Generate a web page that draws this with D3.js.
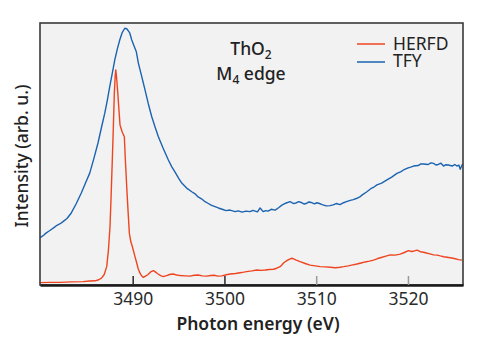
<!DOCTYPE html>
<html>
<head>
<meta charset="utf-8">
<script src="https://cdn.jsdelivr.net/npm/d3@7"></script>
<style>
  html, body { margin: 0; padding: 0; background: #ffffff; }
  svg { display: block; }
</style>
</head>
<body>
<svg id="chart" width="480" height="346"></svg>
<script>
// ---- data ----
const xTicks = [3490, 3500, 3510, 3520];
const seriesNames = ["HERFD", "TFY"];

const herfdEnergy = [3479.9, 3481.0, 3482.1, 3483.3, 3484.6, 3485.3, 3485.9, 3486.3, 3486.6, 3486.9, 3487.17, 3487.35, 3487.53, 3487.65, 3487.78, 3487.9, 3488.0, 3488.1, 3488.16, 3488.25, 3488.38, 3488.5, 3488.62, 3488.85, 3489.09, 3489.2, 3489.35, 3489.5, 3489.64, 3489.8, 3489.97, 3490.2, 3490.45, 3490.6, 3490.8, 3491.0, 3491.16, 3491.4, 3491.68, 3491.95, 3492.26, 3492.5, 3492.77, 3493.05, 3493.35, 3493.6, 3493.86, 3494.15, 3494.44, 3494.8, 3495.17, 3495.7, 3496.26, 3496.7, 3497.13, 3497.6, 3498.08, 3498.5, 3498.87, 3499.3, 3499.71, 3500.2, 3500.62, 3501.2, 3501.71, 3502.1, 3502.58, 3503.0, 3503.53, 3504.0, 3504.43, 3504.9, 3505.34, 3505.7, 3506.07, 3506.3, 3506.5, 3506.8, 3507.1, 3507.35, 3507.6, 3507.82, 3508.25, 3508.8, 3509.34, 3509.9, 3510.43, 3511.0, 3511.52, 3512.1, 3512.62, 3513.0, 3513.49, 3514.0, 3514.44, 3514.9, 3515.34, 3515.8, 3516.25, 3516.7, 3517.09, 3517.6, 3518.07, 3518.6, 3519.16, 3519.6, 3520.06, 3520.4, 3520.69, 3521.0, 3521.34, 3521.7, 3522.0, 3522.4, 3522.79, 3523.2, 3523.52, 3523.9, 3524.25, 3524.6, 3525.05, 3525.5, 3525.89];
const herfdValue  = [0.009, 0.010, 0.010, 0.012, 0.013, 0.015, 0.016, 0.020, 0.026, 0.040, 0.070, 0.130, 0.223, 0.340, 0.477, 0.610, 0.733, 0.800, 0.821, 0.790, 0.732, 0.670, 0.611, 0.585, 0.566, 0.480, 0.375, 0.280, 0.197, 0.165, 0.146, 0.115, 0.083, 0.062, 0.045, 0.034, 0.029, 0.034, 0.040, 0.050, 0.055, 0.049, 0.042, 0.036, 0.032, 0.035, 0.038, 0.041, 0.042, 0.038, 0.036, 0.035, 0.034, 0.037, 0.038, 0.035, 0.034, 0.036, 0.037, 0.034, 0.035, 0.039, 0.042, 0.044, 0.047, 0.049, 0.052, 0.054, 0.057, 0.056, 0.057, 0.059, 0.060, 0.064, 0.070, 0.078, 0.086, 0.093, 0.099, 0.102, 0.099, 0.095, 0.089, 0.082, 0.076, 0.073, 0.070, 0.069, 0.068, 0.066, 0.068, 0.070, 0.073, 0.077, 0.080, 0.084, 0.088, 0.091, 0.095, 0.101, 0.105, 0.110, 0.115, 0.114, 0.118, 0.124, 0.131, 0.128, 0.130, 0.133, 0.127, 0.125, 0.122, 0.119, 0.115, 0.114, 0.111, 0.108, 0.106, 0.104, 0.101, 0.097, 0.095];

const tfyEnergy = [3479.9, 3480.04, 3480.3, 3480.55, 3480.85, 3481.13, 3481.45, 3481.75, 3482.1, 3482.41, 3482.84, 3483.31, 3483.83, 3484.4, 3484.86, 3485.32, 3485.79, 3486.22, 3486.61, 3486.96, 3487.24, 3487.5, 3487.78, 3488.05, 3488.33, 3488.59, 3488.84, 3489.14, 3489.39, 3489.68, 3489.9, 3490.15, 3490.4, 3490.62, 3490.97, 3491.35, 3491.71, 3492.08, 3492.44, 3492.8, 3493.31, 3493.89, 3494.25, 3494.62, 3495.0, 3495.35, 3495.88, 3496.44, 3496.8, 3497.13, 3497.5, 3497.89, 3498.2, 3498.55, 3498.9, 3499.34, 3499.75, 3500.18, 3500.6, 3501.16, 3501.5, 3501.93, 3502.35, 3502.8, 3503.1, 3503.35, 3503.6, 3503.89, 3504.22, 3504.5, 3504.76, 3505.1, 3505.53, 3505.9, 3506.26, 3506.73, 3507.16, 3507.5, 3507.82, 3508.1, 3508.36, 3508.7, 3508.98, 3509.2, 3509.45, 3509.8, 3510.07, 3510.35, 3510.65, 3511.09, 3511.52, 3511.85, 3512.18, 3512.6, 3512.98, 3513.3, 3513.71, 3514.05, 3514.44, 3514.75, 3515.02, 3515.53, 3516.05, 3516.3, 3516.62, 3517.14, 3517.71, 3518.23, 3518.8, 3519.2, 3519.52, 3520.03, 3520.3, 3520.61, 3521.12, 3521.4, 3521.7, 3522.21, 3522.5, 3522.79, 3523.05, 3523.3, 3523.6, 3523.88, 3524.1, 3524.39, 3524.83, 3525.1, 3525.34, 3525.55, 3525.7, 3525.95];
const tfyValue  = [0.181, 0.184, 0.190, 0.198, 0.205, 0.212, 0.220, 0.228, 0.234, 0.242, 0.254, 0.275, 0.309, 0.351, 0.389, 0.427, 0.485, 0.542, 0.603, 0.656, 0.706, 0.757, 0.809, 0.859, 0.901, 0.935, 0.962, 0.980, 0.977, 0.962, 0.935, 0.912, 0.890, 0.847, 0.798, 0.744, 0.691, 0.642, 0.603, 0.566, 0.523, 0.477, 0.452, 0.431, 0.408, 0.389, 0.370, 0.356, 0.348, 0.336, 0.329, 0.318, 0.312, 0.305, 0.300, 0.294, 0.289, 0.284, 0.286, 0.280, 0.283, 0.278, 0.282, 0.280, 0.285, 0.282, 0.279, 0.294, 0.280, 0.284, 0.282, 0.289, 0.286, 0.295, 0.305, 0.313, 0.318, 0.311, 0.313, 0.318, 0.315, 0.309, 0.312, 0.317, 0.315, 0.310, 0.314, 0.311, 0.307, 0.302, 0.303, 0.306, 0.311, 0.307, 0.314, 0.318, 0.323, 0.326, 0.331, 0.336, 0.344, 0.356, 0.370, 0.374, 0.382, 0.389, 0.401, 0.412, 0.426, 0.432, 0.439, 0.447, 0.450, 0.454, 0.456, 0.462, 0.462, 0.460, 0.466, 0.464, 0.458, 0.460, 0.465, 0.454, 0.459, 0.458, 0.454, 0.460, 0.454, 0.458, 0.442, 0.462];

// ---- layout ----
const svg = d3.select("#chart");
const plotL = 40, plotR = 463, plotT = 23, plotB = 285;
const colors = { HERFD: "#ee4520", TFY: "#1b63b0" };
const font = "'Noto Sans', 'Open Sans', sans-serif";
const fs = 17.5;

const x = d3.scaleLinear().domain([3479.9, 3526.0]).range([plotL, plotR]);
const y = d3.scaleLinear().domain([0, 1]).range([plotB, plotT]);

// plot background
svg.append("rect")
  .attr("x", plotL).attr("y", plotT)
  .attr("width", plotR - plotL).attr("height", plotB - plotT)
  .attr("fill", "#f2f2f2");

// lines
const line = d3.line().x(d => x(d[0])).y(d => y(d[1]));
const herfd = herfdEnergy.map((e, i) => [e, herfdValue[i]]);
const tfy = tfyEnergy.map((e, i) => [e, tfyValue[i]]);

const plot = svg.append("g");
plot.append("path").datum(tfy)
  .attr("d", line).attr("fill", "none")
  .attr("stroke", colors.TFY).attr("stroke-width", 1.4).attr("stroke-linejoin", "round");
plot.append("path").datum(herfd)
  .attr("d", line).attr("fill", "none")
  .attr("stroke", colors.HERFD).attr("stroke-width", 1.4).attr("stroke-linejoin", "round");

// frame
svg.append("rect")
  .attr("x", plotL).attr("y", plotT)
  .attr("width", plotR - plotL).attr("height", plotB - plotT)
  .attr("fill", "none").attr("stroke", "#3a3a3a").attr("stroke-width", 1.6);

// x axis
const xAxis = d3.axisBottom(x).tickValues(xTicks)
  .tickSizeInner(-9).tickSizeOuter(0).tickPadding(8)
  .tickFormat(d3.format("d"));
const gx = svg.append("g").attr("transform", `translate(0,${plotB})`).call(xAxis);
gx.select(".domain").attr("stroke", "#1a1a1a").attr("stroke-width", 2.6);
gx.selectAll(".tick line")
  .attr("stroke", (d, i) => i < 2 ? "#2a2a2a" : "#9a9a9a")
  .attr("stroke-width", 1.5);
gx.selectAll(".tick text")
  .attr("font-family", font).attr("font-size", fs)
  .attr("fill", "#2a2a2a");

// axis titles
svg.append("text")
  .attr("x", 258).attr("y", 330)
  .attr("text-anchor", "middle")
  .attr("font-family", font).attr("font-size", fs).attr("font-weight", 600)
  .attr("fill", "#222")
  .text("Photon energy (eV)");

svg.append("text")
  .attr("transform", "translate(28,156) rotate(-90)")
  .attr("text-anchor", "middle")
  .attr("font-family", font).attr("font-size", fs).attr("font-weight", 500)
  .attr("fill", "#222")
  .text("Intensity (arb. u.)");

// annotation
const ann1 = svg.append("text")
  .attr("x", 251).attr("y", 55)
  .attr("text-anchor", "middle")
  .attr("font-family", font).attr("font-size", fs).attr("font-weight", 500)
  .attr("fill", "#222");
ann1.append("tspan").text("ThO");
ann1.append("tspan").attr("font-size", 12).attr("dy", 4).text("2");

const ann2 = svg.append("text")
  .attr("x", 251).attr("y", 80)
  .attr("text-anchor", "middle")
  .attr("font-family", font).attr("font-size", fs).attr("font-weight", 500)
  .attr("fill", "#222");
ann2.append("tspan").text("M");
ann2.append("tspan").attr("font-size", 12).attr("dy", 4).text("4");
ann2.append("tspan").attr("dy", -4).text(" edge");

// legend
const legend = svg.append("g");
const legLineY = [44, 62];
const legTextY = [50, 67];
seriesNames.forEach((name, i) => {
  legend.append("line")
    .attr("x1", 357).attr("x2", 385).attr("y1", legLineY[i]).attr("y2", legLineY[i])
    .attr("stroke", colors[name]).attr("stroke-width", 1.5);
  legend.append("text")
    .attr("x", 393).attr("y", legTextY[i])
    .attr("font-family", font).attr("font-size", fs)
    .attr("fill", "#222")
    .text(name);
});
</script>
</body>
</html>
